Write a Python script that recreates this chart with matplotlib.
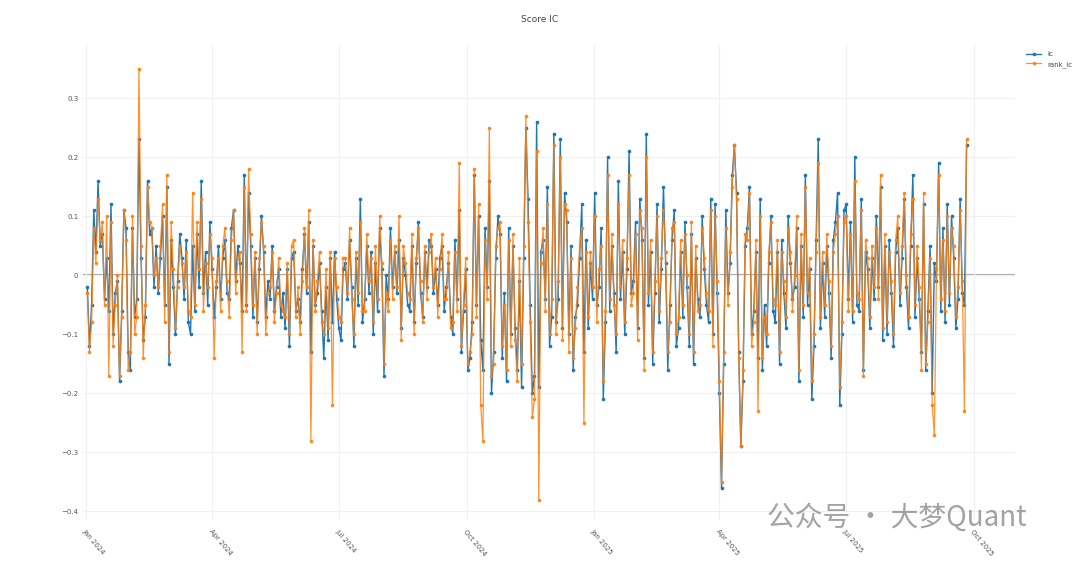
import numpy as np
import pandas as pd
import matplotlib
matplotlib.use("Agg")
import matplotlib.pyplot as plt
import matplotlib.dates as mdates

# values, in hundredths
ic_pct = [
    -2, -12, -5, 11, 4, 16, 5, 7, -4, 3, -6, 12, -10, -3, -1, -18, -6, 11, 8, -13,
    -16, 8, -7, -4, 23, 3, -11, -7, 16, 7, 8, -2, 5, -3, 3, 10, -5, 15, -15, 6,
    -2, -10, -1, 7, 3, -4, 6, -8, -10, 5, -6, 7, -2, 16, -3, 4, -5, 9, 1, -7,
    -2, 5, -4, 3, 6, -3, -4, 8, 11, -1, 5, 2, -6, 17, -5, 14, 5, -7, 3, -8,
    1, 10, 4, -7, -1, -4, 5, -6, -2, 1, -7, -3, -9, 1, -12, 3, 4, -6, -4, -8,
    1, 7, -3, 9, -13, 5, -5, -3, 2, -6, -14, -2, -11, 3, -8, 4, -4, -9, -11, 1,
    2, -4, 6, -2, -12, 3, -5, 13, -8, -4, 5, -3, 4, -10, 2, -6, 8, 1, -17, 0,
    -4, 8, -2, 4, -3, 6, -9, 3, 0, -5, -6, 5, -8, 2, 9, -3, -7, 4, -2, 6,
    5, -3, 1, -5, 3, 5, -6, -2, 2, -7, -10, 6, -4, 11, -13, -6, 1, -16, -14, -8,
    17, -5, 10, -11, -16, 8, -2, 16, -20, -13, 3, 10, 7, -14, -3, -18, 8, -10, 5, -9,
    -16, -1, -19, 3, 25, 13, -5, -20, -17, 26, -19, 4, 6, -4, 15, -12, -7, 24, -8, -4,
    23, -9, 14, 9, -10, 5, -16, -7, -5, 3, 12, -13, 6, -9, 2, -4, 14, -5, -2, 8,
    -21, -8, 20, -6, 5, -3, -13, 16, -4, 4, -10, 1, 21, -3, -1, 9, -9, 13, 6, -14,
    24, -5, 4, -15, -3, 12, -8, 1, 15, 2, -16, -5, 6, 11, -12, -9, 4, -7, 9, -2,
    -12, 7, -15, 3, -4, -7, 10, 1, -5, -8, 13, -10, 12, -3, -20, -36, -15, 11, -3, 2,
    17, 22, 14, -13, -29, -18, 5, 8, 15, -10, -6, 4, -14, 13, -16, -5, -12, 2, 10, -6,
    -8, 4, -15, 6, -3, -9, 10, 2, -4, -2, 8, -18, 5, -7, 17, -5, 1, -21, -12, 6,
    23, -9, 2, -7, 5, -3, -14, 6, 9, 14, -22, -10, 11, 12, -4, 9, -8, 20, -5, -6,
    13, -16, 4, 1, -9, 3, -4, 10, -2, 15, -11, 5, -10, 6, -3, -12, 4, 8, -5, 3,
    13, -2, -9, 5, 17, -7, 3, -4, -13, 12, -16, -6, 5, -20, 2, -1, 19, -6, 8, -8,
    12, -5, 10, 3, -9, -4, 13, -3, -5, 22,
]
rank_ic_pct = [
    -3, -13, -8, 8, 2, 13, 6, 9, -5, 10, -17, 9, -12, -5, 0, -17, -7, 11, 6, -16,
    -13, 10, -10, -7, 35, 5, -14, -5, 15, 9, 8, 0, 3, -2, 5, 12, -8, 17, -13, 9,
    1, -9, -2, 5, 2, -2, 4, -6, -7, 14, -5, 9, 1, 13, -6, 2, -2, 7, 3, -14,
    -1, 3, -6, 5, 8, -1, -7, 6, 11, -3, 3, 4, -13, 15, -6, 18, 7, -5, 4, -10,
    3, 9, 5, -10, -3, -2, 4, -8, -3, 3, -5, -6, -7, 2, -10, 5, 6, -7, -2, -10,
    -1, 8, -2, 11, -28, 6, -6, -1, 4, -8, -10, 1, -9, 4, -22, 3, -2, -7, -8, 3,
    3, -3, 8, -4, -10, 4, -3, 9, -6, -6, 7, -1, 3, -8, 5, -4, 10, 2, -15, -3,
    -6, 6, -4, 5, -2, 10, -11, 5, 2, -3, -4, 7, -10, 3, 8, -1, -8, 5, -4, 4,
    7, -2, 3, -7, 1, 7, -4, -4, 4, -9, -8, 4, -6, 19, -12, -5, 3, -15, -13, -10,
    18, -7, 12, -22, -28, 6, -4, 25, -17, -15, 5, 8, 9, -12, -5, -16, 6, -12, 7, -11,
    -18, 3, -15, 5, 27, 9, -8, -24, -21, 21, -38, 2, 8, -6, 12, -10, -4, 22, -10, -1,
    20, -11, 12, 11, -13, 3, -14, -9, -2, 5, 8, -25, 4, -7, 4, -2, 10, -8, 1, 5,
    -18, -6, 17, -4, 7, -5, -10, 12, -2, 6, -8, 3, 17, -5, -3, 7, -11, 11, 8, -16,
    20, -3, 6, -13, -1, 10, -6, 3, 11, 4, -13, -8, 8, 9, -10, -7, 6, -5, 7, 0,
    -10, 9, -13, 5, -6, -5, 8, 3, -3, -6, 11, -12, 10, -1, -18, -35, -13, 8, -5, 4,
    15, 22, 13, -14, -29, -16, 7, 6, 14, -12, -8, 6, -23, 10, -14, -7, -10, 4, 9, -4,
    -5, 6, -13, 4, -1, -7, 8, 4, -6, 0, 10, -16, 7, -5, 15, -3, 3, -18, -10, 4,
    19, -7, 4, -5, 7, -1, -12, 4, 7, 10, -19, -8, 9, 10, -6, 7, -6, 16, -3, -4,
    11, -17, 6, 3, -7, 5, -2, 8, -4, 17, -9, 7, -8, 4, -1, -10, 6, 10, -3, 5,
    14, 0, -7, 7, 13, -5, 5, -2, -16, 14, -15, -8, 3, -22, -27, 1, 17, -4, 6, -6,
    10, -3, 8, 5, -7, -2, 11, -1, -23, 23,
]
tick_dates = ["2024-01-01", "2024-04-01", "2024-07-01", "2024-10-01",
              "2025-01-01", "2025-04-01", "2025-07-01", "2025-10-01"]

ic = np.array(ic_pct) / 100
rank_ic = np.array(rank_ic_pct) / 100
dates = pd.date_range("2024-01-02", "2025-09-26", periods=len(ic))

fig = plt.figure(figsize=(10.8, 5.63), dpi=100)
ax = fig.add_axes([0.077, 0.076, 0.863, 0.844])

ax.axhline(0, color="#aaaaaa", lw=1.5, zorder=1)
ax.plot(dates, ic, color="#1f77b4", lw=1, marker="o", ms=1.6, label="ic", zorder=2)
ax.plot(dates, rank_ic, color="#ff7f0e", lw=0.9, marker="o", ms=1.6, label="rank_ic",
        alpha=0.85, zorder=3)

ax.set_xlim(pd.Timestamp("2023-12-30"), pd.Timestamp("2025-10-31"))
ax.set_ylim(-0.415, 0.39)
ax.set_yticks([-0.4, -0.3, -0.2, -0.1, 0, 0.1, 0.2, 0.3])
ax.set_yticklabels(["−0.4", "−0.3", "−0.2", "−0.1", "0", "0.1", "0.2", "0.3"])
ax.set_xticks(pd.to_datetime(tick_dates))
ax.xaxis.set_major_formatter(mdates.DateFormatter("%b %Y"))
plt.setp(ax.get_xticklabels(), rotation=-50, ha="left", rotation_mode="anchor")
ax.tick_params(axis="x", pad=6)
ax.tick_params(labelsize=5, colors="#555555", length=0)
ax.grid(True, color="#f0f0f0", lw=0.8)
for s in ax.spines.values():
    s.set_visible(False)

fig.text(0.5, 0.965, "Score IC", ha="center", va="center", fontsize=6.5, color="#444444")
ax.legend(loc="upper left", bbox_to_anchor=(1.005, 1.0), frameon=False, fontsize=5,
          handlelength=2.2, labelcolor="#444444")

fig.text(0.71, 0.08, "公众号 · 大梦Quant", fontsize=20, color="#999999",
         family=["Noto Sans CJK SC", "DejaVu Sans"], alpha=0.9, va="center")

fig.savefig("out.png", dpi=100)
